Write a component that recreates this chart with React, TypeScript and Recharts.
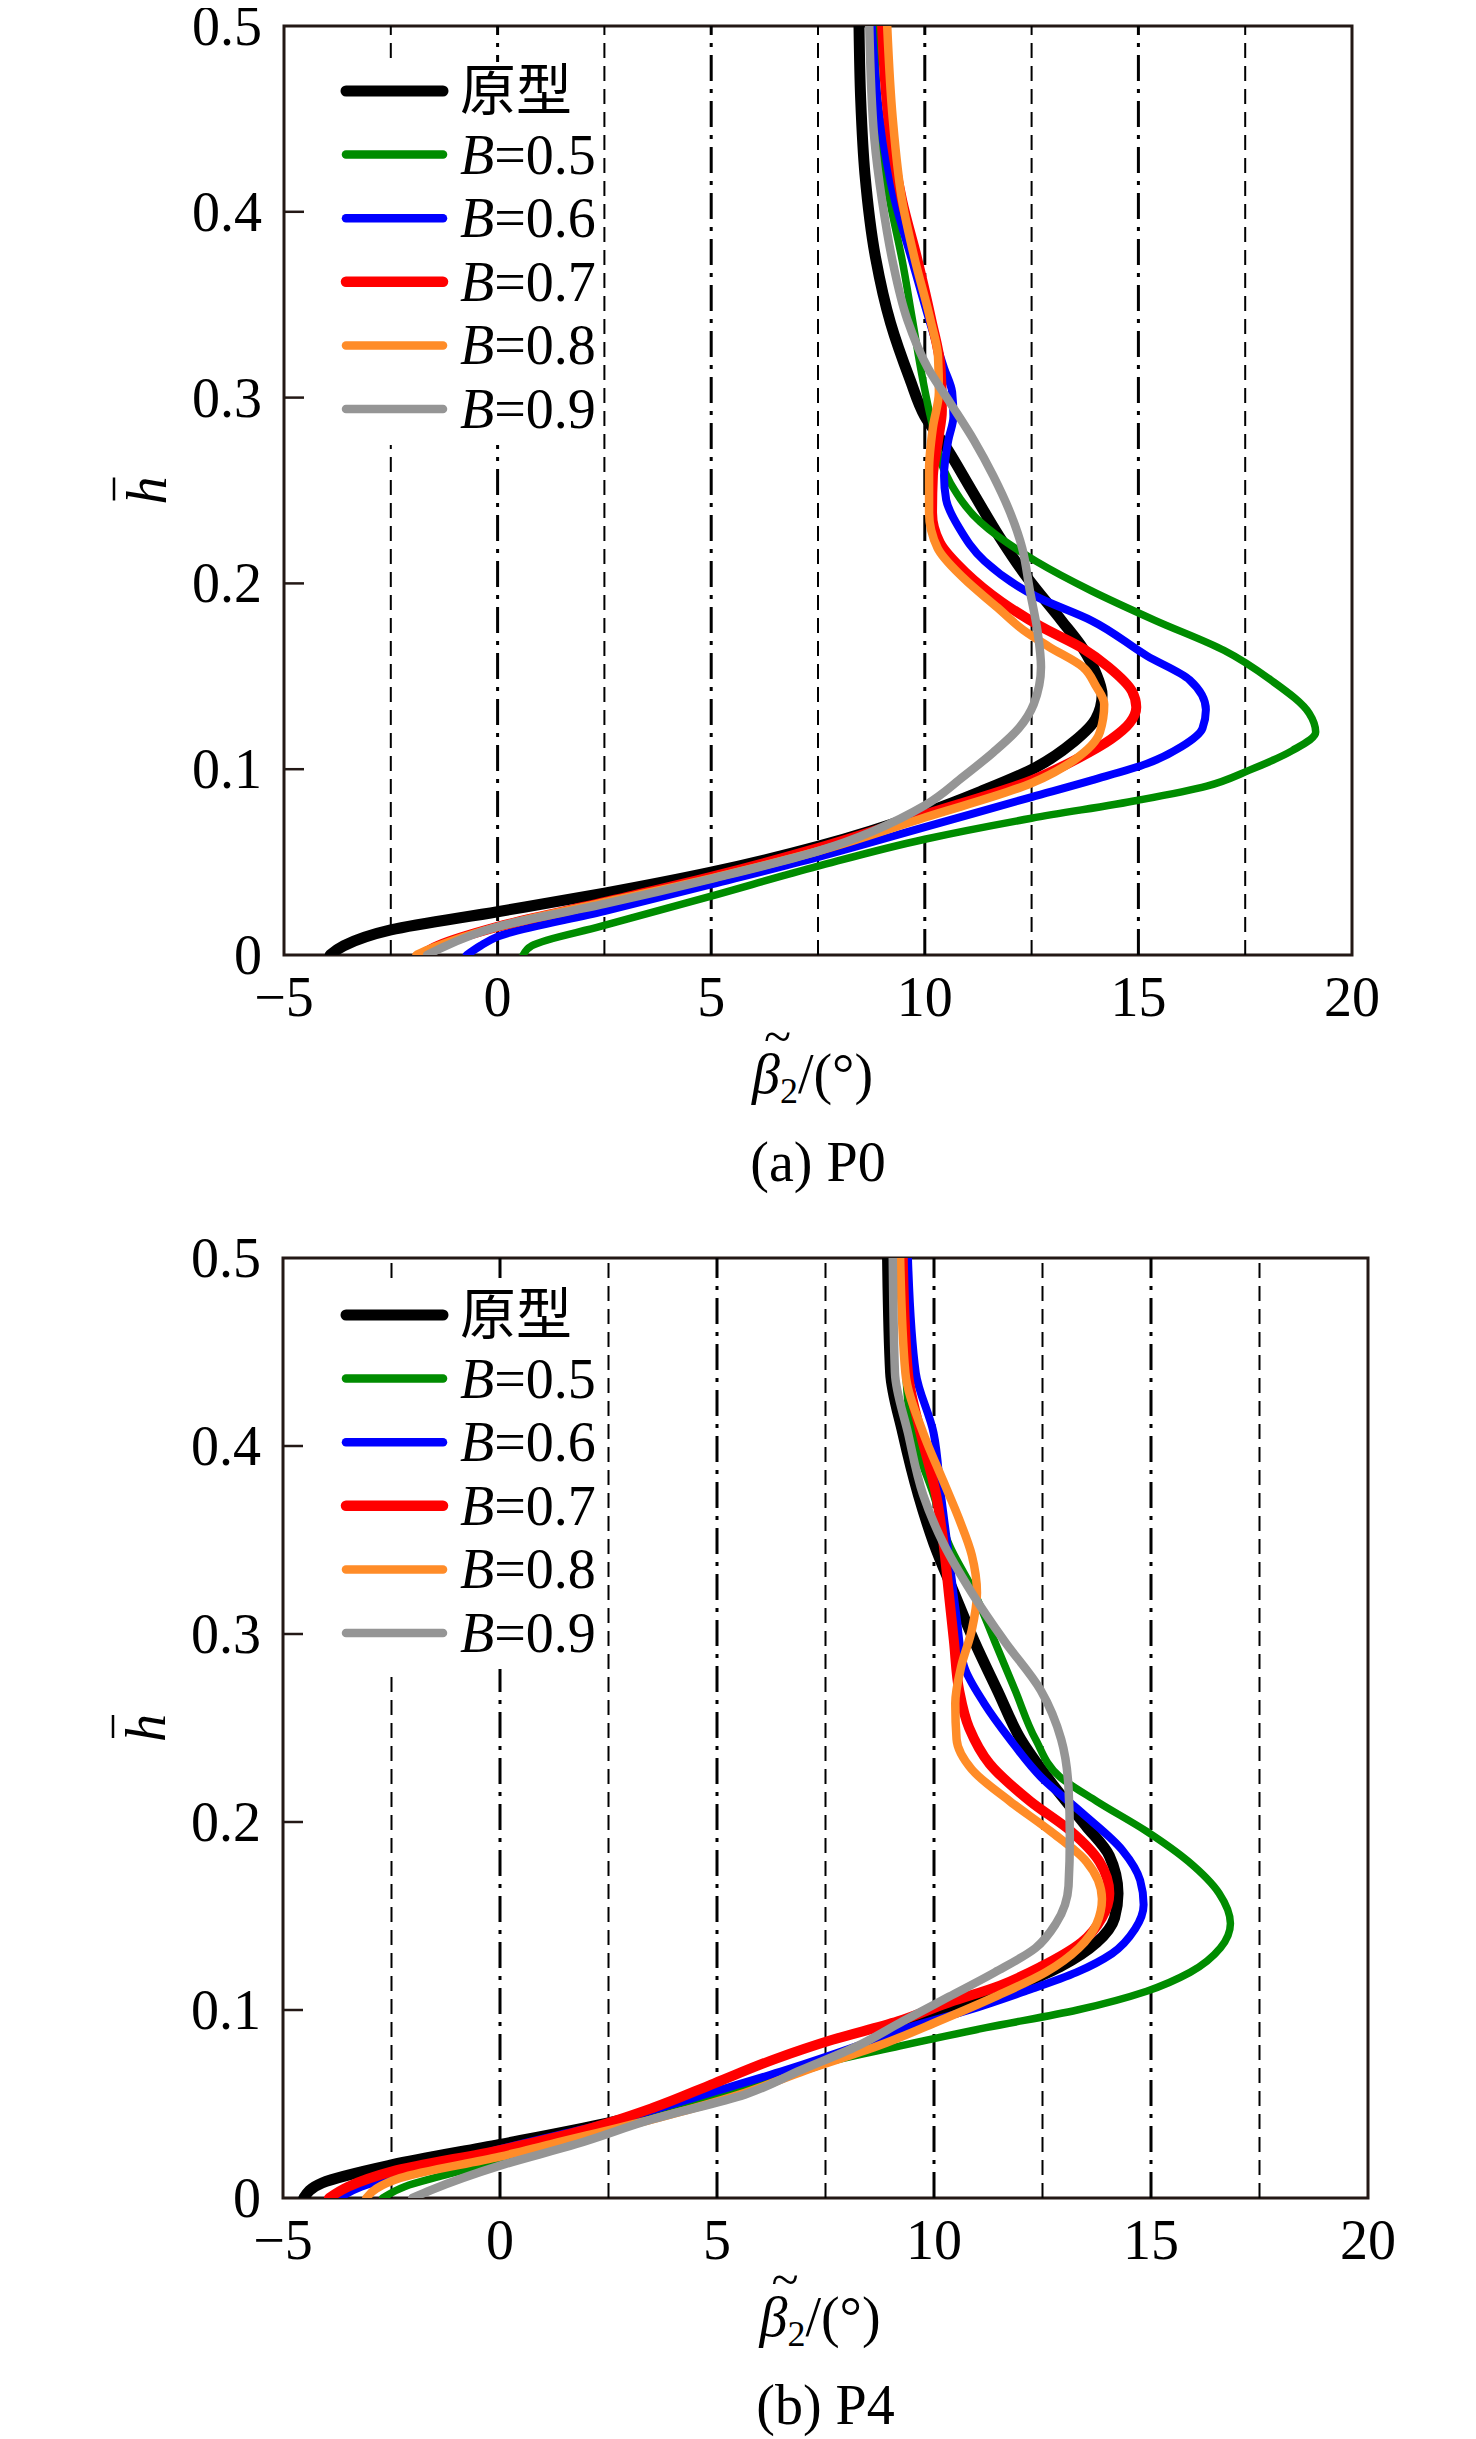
import { LineChart, Line, XAxis, YAxis, ReferenceLine, ReferenceArea, Legend } from 'recharts'

// every curve is a list of [h, beta2] pairs, h ascending
type Pt = [number, number]

const X_TICKS = [-5, 0, 5, 10, 15, 20]
const Y_TICKS = [0, 0.1, 0.2, 0.3, 0.4, 0.5]
const GRID_DASHED = [-2.5, 2.5, 7.5, 12.5, 17.5]
const GRID_DASHDOT = [0, 5, 10, 15]

// (a) P0
const P0_PROTO: Pt[] = [
  [0, -3.92], [0.005, -3.6], [0.0135, -2.5], [0.0233, 0], [0.0333, 2.5], [0.0446, 5], [0.0585, 7.5],
  [0.0765, 10], [0.088, 11.3], [0.101, 12.6], [0.115, 13.5], [0.127, 14.0], [0.14, 14.15], [0.152, 14.0],
  [0.165, 13.7], [0.18, 13.2], [0.203, 12.4], [0.225, 11.75], [0.25, 11.1], [0.275, 10.45], [0.29, 10.0],
  [0.31, 9.65], [0.34, 9.2], [0.375, 8.85], [0.42, 8.6], [0.46, 8.5], [0.5, 8.46],
]
const P0_B05: Pt[] = [
  [0, 0.6], [0.005, 0.8], [0.0155, 2.43], [0.0317, 5.0], [0.0478, 7.5], [0.0623, 10.0], [0.0736, 12.5],
  [0.0833, 15.0], [0.0909, 16.6], [0.0995, 17.6], [0.11, 18.6], [0.12, 19.15], [0.13, 19.0], [0.148, 18.1],
  [0.164, 17.0], [0.18, 15.4], [0.196, 13.9], [0.212, 12.6], [0.233, 11.3], [0.254, 10.6], [0.288, 10.15],
  [0.31, 9.95], [0.342, 9.71], [0.374, 9.47], [0.406, 9.18], [0.439, 8.95], [0.5, 8.82],
]
const P0_B06: Pt[] = [
  [0, -0.72], [0.005, -0.4], [0.0099, 0], [0.0236, 2.5], [0.038, 5], [0.0527, 7.5], [0.0688, 10],
  [0.085, 12.5], [0.094, 13.9], [0.103, 15.2], [0.112, 16.0], [0.122, 16.5], [0.132, 16.58], [0.148, 16.2],
  [0.161, 15.2], [0.18, 13.9], [0.193, 12.6], [0.212, 11.4], [0.23, 10.8], [0.245, 10.5], [0.258, 10.45],
  [0.277, 10.55], [0.29, 10.67], [0.303, 10.64], [0.316, 10.45], [0.342, 10.1], [0.374, 9.7], [0.406, 9.3],
  [0.45, 8.95], [0.5, 8.76],
]
const P0_B07: Pt[] = [
  [0, -1.8], [0.005, -1.4], [0.0152, 0], [0.0284, 2.5], [0.042, 5], [0.0575, 7.5], [0.0755, 10],
  [0.094, 12.5], [0.106, 13.6], [0.116, 14.35], [0.125, 14.8], [0.1334, 14.95], [0.142, 14.85], [0.155, 14.3],
  [0.165, 13.7], [0.177, 12.7], [0.19, 11.8], [0.206, 10.95], [0.222, 10.35], [0.238, 10.17], [0.258, 10.19],
  [0.277, 10.31], [0.293, 10.4], [0.316, 10.37], [0.342, 10.15], [0.374, 9.83], [0.406, 9.47], [0.45, 9.15],
  [0.5, 9.0],
]
const P0_B08: Pt[] = [
  [0, -1.9], [0.004, -1.5], [0.0152, 0], [0.0284, 2.5], [0.0413, 5], [0.0559, 7.5], [0.074, 10],
  [0.0925, 12.5], [0.105, 13.5], [0.12, 14.1], [0.135, 14.2], [0.145, 14.0], [0.155, 13.7], [0.166, 12.9],
  [0.175, 12.3], [0.187, 11.7], [0.203, 10.9], [0.219, 10.3], [0.238, 10.1], [0.261, 10.1], [0.284, 10.19],
  [0.303, 10.33], [0.322, 10.31], [0.342, 10.13], [0.374, 9.77], [0.406, 9.47], [0.45, 9.25], [0.5, 9.12],
]
const P0_B09: Pt[] = [
  [0, -1.65], [0.004, -1.3], [0.0152, 0], [0.0275, 2.5], [0.041, 5], [0.0559, 7.5], [0.0805, 10],
  [0.096, 10.9], [0.109, 11.6], [0.122, 12.2], [0.135, 12.55], [0.155, 12.72], [0.174, 12.64], [0.196, 12.46],
  [0.219, 12.28], [0.238, 12.0], [0.258, 11.6], [0.277, 11.15], [0.297, 10.6], [0.316, 10.07], [0.342, 9.59],
  [0.374, 9.24], [0.406, 9.0], [0.439, 8.82], [0.5, 8.7],
]

// (b) P4
const P4_PROTO: Pt[] = [
  [0, -4.52], [0.008, -4.1], [0.0176, -2.5], [0.0285, 0], [0.04, 2.5], [0.047, 3.8], [0.058, 5.4],
  [0.071, 7.3], [0.084, 8.7], [0.097, 10.1], [0.11, 11.6], [0.123, 12.9], [0.136, 13.75], [0.149, 14.16],
  [0.162, 14.24], [0.182, 14.04], [0.198, 13.5], [0.221, 12.7], [0.244, 12.0], [0.27, 11.46], [0.296, 10.93],
  [0.322, 10.46], [0.348, 10.0], [0.374, 9.64], [0.407, 9.28], [0.439, 9.0], [0.5, 8.93],
]
const P4_B05: Pt[] = [
  [0, -2.7], [0.006, -2.2], [0.012, -1.3], [0.02, 0], [0.035, 1.9], [0.048, 3.9], [0.061, 5.9],
  [0.071, 7.3], [0.0808, 9.2], [0.0906, 11.2], [0.1, 13.3], [0.11, 14.9], [0.12, 15.9], [0.133, 16.6],
  [0.146, 16.83], [0.162, 16.57], [0.179, 15.86], [0.195, 14.9], [0.211, 13.75], [0.224, 12.9], [0.244, 12.34],
  [0.27, 11.87], [0.296, 11.4], [0.322, 10.93], [0.348, 10.34], [0.374, 9.99], [0.407, 9.5], [0.439, 9.35],
  [0.5, 9.28],
]
const P4_B06: Pt[] = [
  [0, -3.7], [0.006, -3.2], [0.016, -1.5], [0.026, 0], [0.04, 2.5], [0.055, 4.7], [0.068, 6.58],
  [0.0808, 8.23], [0.0906, 9.4], [0.1, 10.81], [0.11, 12.1], [0.12, 13.28], [0.13, 14.1], [0.143, 14.63],
  [0.156, 14.83], [0.169, 14.75], [0.185, 14.34], [0.205, 13.4], [0.224, 12.46], [0.244, 11.75], [0.263, 11.16],
  [0.283, 10.69], [0.309, 10.52], [0.342, 10.34], [0.374, 10.16], [0.407, 9.99], [0.439, 9.58], [0.5, 9.4],
]
const P4_B07: Pt[] = [
  [0, -3.94], [0.006, -3.5], [0.014, -2.5], [0.0255, 0], [0.035, 1.76], [0.048, 3.53], [0.061, 4.94],
  [0.074, 6.35], [0.084, 7.64], [0.094, 9.17], [0.104, 10.34], [0.113, 11.52], [0.123, 12.46], [0.136, 13.4],
  [0.149, 13.87], [0.162, 14.04], [0.179, 13.81], [0.195, 13.16], [0.211, 12.22], [0.231, 11.28], [0.25, 10.81],
  [0.27, 10.58], [0.296, 10.46], [0.322, 10.34], [0.348, 10.22], [0.374, 10.05], [0.407, 9.69], [0.439, 9.4],
  [0.5, 9.28],
]
const P4_B08: Pt[] = [
  [0, -3.08], [0.005, -2.85], [0.0106, -2.3], [0.022, 0], [0.0287, 1.18], [0.042, 3.53], [0.055, 5.52],
  [0.068, 7.05], [0.0808, 8.7], [0.094, 10.1], [0.107, 11.4], [0.12, 12.57], [0.133, 13.34], [0.146, 13.75],
  [0.159, 13.87], [0.179, 13.51], [0.195, 12.69], [0.211, 11.75], [0.228, 10.87], [0.244, 10.52], [0.263, 10.49],
  [0.283, 10.63], [0.302, 10.87], [0.322, 10.99], [0.342, 10.87], [0.361, 10.58], [0.381, 10.22], [0.407, 9.75],
  [0.439, 9.34], [0.5, 9.22],
]
const P4_B09: Pt[] = [
  [0, -2.02], [0.0044, -1.57], [0.0172, 0], [0.0287, 1.76], [0.042, 3.53], [0.055, 5.64], [0.068, 6.93],
  [0.0808, 8.23], [0.094, 9.28], [0.107, 10.34], [0.12, 11.4], [0.133, 12.34], [0.146, 12.81], [0.166, 13.1],
  [0.192, 13.13], [0.218, 13.1], [0.244, 12.93], [0.27, 12.46], [0.296, 11.63], [0.322, 10.87], [0.348, 10.22],
  [0.374, 9.75], [0.407, 9.4], [0.439, 9.1], [0.5, 9.05],
]

const SERIES = [
  { name: '原型', color: '#000000', width: 11, legendWidth: 11 },
  { name: 'B=0.5', color: '#008c00', width: 7.5, legendWidth: 8.5 },
  { name: 'B=0.6', color: '#0000ff', width: 8, legendWidth: 8.5 },
  { name: 'B=0.7', color: '#ff0000', width: 10, legendWidth: 10.5 },
  { name: 'B=0.8', color: '#ff8c28', width: 8.5, legendWidth: 8.5 },
  { name: 'B=0.9', color: '#959595', width: 8.5, legendWidth: 8.5 },
]

const FONT = "'Liberation Serif', 'Times New Roman', 'Noto Sans CJK SC', serif"
const FS = 56
const AXIS_COLOR = '#231815'

const toPoints = (pts: Pt[]) => pts.map(([h, b]) => ({ h, b }))

function XTick({ x, y, payload }: any) {
  const v = payload.value
  const label = v < 0 ? `\u2212${Math.abs(v)}` : String(v)
  return (
    <text x={x} y={y + 61} textAnchor="middle" fontSize={FS} fontFamily={FONT} fill="#000">
      {label}
    </text>
  )
}

function YTick({ x, y, payload }: any) {
  const v = payload.value
  return (
    <g>
      {v > 0 && v < 0.5 && <line x1={x} x2={x + 20} y1={y} y2={y} stroke={AXIS_COLOR} strokeWidth={2.5} />}
      <text x={x - 22} y={y} dy={19} textAnchor="end" fontSize={FS} fontFamily={FONT} fill="#000">
        {String(v)}
      </text>
    </g>
  )
}

function XTitle({ viewBox, caption }: any) {
  const { x, y, width } = viewBox
  const cx = x + width / 2
  return (
    <g fontFamily={FONT} fill="#000">
      <text x={cx - 66} y={y + 138} fontSize={FS}>
        <tspan fontStyle="italic">β</tspan>
        <tspan fontSize={36} dy={10}>2</tspan>
        <tspan dy={-10}>/(°)</tspan>
        <tspan x={cx - 54} y={y + 98} fontSize={50}>~</tspan>
      </text>
      <text x={cx} y={y + 226} textAnchor="middle" fontSize={FS}>{caption}</text>
    </g>
  )
}

function YTitle({ viewBox }: any) {
  const { x, y, width, height } = viewBox
  const px = x + width - 118
  const py = y + height / 2
  return (
    <g transform={`translate(${px},${py}) rotate(-90)`}>
      <text x={0} y={0} textAnchor="middle" fontSize={FS} fontStyle="italic" fontFamily={FONT} fill="#000">h</text>
      <line x1={-10} x2={13} y1={-52} y2={-52} stroke="#000" strokeWidth={2.5} />
    </g>
  )
}

function LegendBox({ payload }: any) {
  const order = (v: string) => SERIES.findIndex(d => d.name === v)
  const items = [...(payload ?? [])].sort((a: any, b: any) => order(a.value) - order(b.value))
  return (
    <svg width={268} height={383} style={{ display: 'block', overflow: 'visible' }}>
      {items.map((entry: any, i: number) => {
        const s = SERIES[order(entry.value)]
        const cy = 29 + i * 63.6
        const label: string = entry.value
        return (
          <g key={label}>
            <line x1={16} x2={113} y1={cy} y2={cy} stroke={entry.color} strokeWidth={s?.legendWidth ?? 8} strokeLinecap="round" />
            <text x={130} y={cy + 19} fontSize={FS} fontFamily={FONT} fill="#000">
              {label.startsWith('B=') ? (
                <>
                  <tspan fontStyle="italic">B</tspan>
                  <tspan>{label.slice(1)}</tspan>
                </>
              ) : label}
            </text>
          </g>
        )
      })}
    </svg>
  )
}

interface PanelProps {
  curves: Pt[][]
  caption: string
  height: number
  margin: { top: number; right: number; bottom: number; left: number }
  legendTop: number
}

function Panel({ curves, caption, height, margin, legendTop }: PanelProps) {
  return (
    <LineChart width={1460} height={height} margin={margin}>
      {GRID_DASHED.map(v => (
        <ReferenceLine key={`d${v}`} x={v} stroke="#000" strokeWidth={2} strokeDasharray="15 8" />
      ))}
      {GRID_DASHDOT.map(v => (
        <ReferenceLine key={`dd${v}`} x={v} stroke="#000" strokeWidth={3} strokeDasharray="26 8 4 8" />
      ))}
      <XAxis
        type="number"
        dataKey="b"
        domain={[-5, 20]}
        ticks={X_TICKS}
        allowDataOverflow
        axisLine={false}
        tickLine={false}
        tickSize={0}
        tickMargin={0}
        height={40}
        tick={<XTick />}
        label={<XTitle caption={caption} />}
      />
      <YAxis
        type="number"
        domain={[0, 0.5]}
        ticks={Y_TICKS}
        allowDataOverflow
        axisLine={false}
        tickLine={false}
        tickSize={0}
        tickMargin={0}
        width={120}
        tick={<YTick />}
        label={<YTitle />}
      />
      {SERIES.map((s, i) => (
        <Line
          key={s.name}
          data={toPoints(curves[i])}
          dataKey="h"
          name={s.name}
          type="monotoneY"
          stroke={s.color}
          strokeWidth={s.width}
          strokeLinecap="round"
          dot={false}
          activeDot={false}
          isAnimationActive={false}
        />
      ))}
      <ReferenceArea x1={-5} x2={20} y1={0} y2={0.5} fill="none" stroke={AXIS_COLOR} strokeWidth={3} />
      <Legend
        layout="vertical"
        align="center"
        verticalAlign="middle"
        width={268}
        height={383}
        wrapperStyle={{ left: 322, top: legendTop, background: '#fff' }}
        content={(props: any) => <LegendBox {...props} />}
      />
    </LineChart>
  )
}

export default function App() {
  return (
    <div style={{ width: 1460, fontFamily: FONT }}>
      <style>{'.recharts-surface { overflow: visible; }'}</style>
      <Panel
        curves={[P0_PROTO, P0_B05, P0_B06, P0_B07, P0_B08, P0_B09]}
        caption="(a) P0"
        height={1230}
        margin={{ top: 18, right: 116, bottom: 243, left: 156 }}
        legendTop={54}
      />
      <Panel
        curves={[P4_PROTO, P4_B05, P4_B06, P4_B07, P4_B08, P4_B09]}
        caption="(b) P4"
        height={1200}
        margin={{ top: 20, right: 100, bottom: 200, left: 155 }}
        legendTop={48}
      />
    </div>
  )
}
